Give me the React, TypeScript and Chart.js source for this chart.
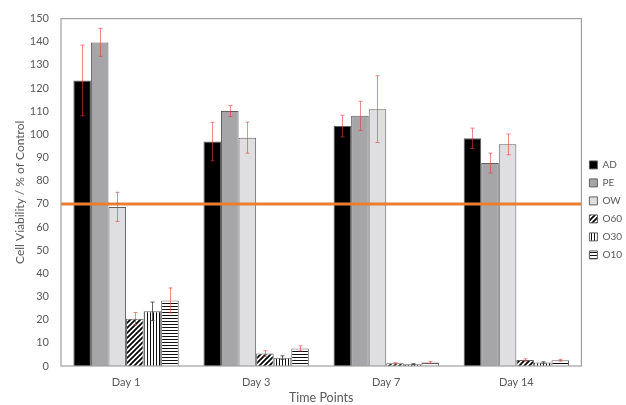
import React, { useEffect, useRef } from 'react';
import { Chart, registerables } from 'chart.js';

Chart.register(...registerables);

const categories = ['Day 1', 'Day 3', 'Day 7', 'Day 14'];
const seriesNames = ['AD', 'PE', 'OW', 'O60', 'O30', 'O10'];

const adValues = [123.3, 96.9, 103.6, 98.3];
const adErrors = [15.3, 8.3, 4.7, 4.4];
const peValues = [139.7, 110.1, 108.0, 87.6];
const peErrors = [6.0, 2.4, 6.3, 4.3];
const owValues = [68.7, 98.6, 110.9, 95.7];
const owErrors = [6.3, 6.7, 14.4, 4.5];
const o60Values = [20.4, 5.4, 1.2, 2.6];
const o60Errors = [2.7, 1.2, 0.3, 0.5];
const o30Values = [23.6, 3.6, 0.8, 1.5];
const o30Errors = [4.0, 0.8, 0.2, 0.3];
const o10Values = [28.3, 7.6, 1.5, 2.5];
const o10Errors = [5.4, 1.1, 0.5, 0.4];

const thresholdValue = 70;
const yTicks = { min: 0, max: 150, step: 10 };

const FONT = 'Lato, "Open Sans", sans-serif';
const TEXT = '#595959';

function makePattern(kind: string): CanvasPattern | string {
  const c = document.createElement('canvas');
  const ctx = c.getContext('2d');
  if (!ctx) return '#888';
  if (kind === 'diag') {
    c.width = 5; c.height = 5;
    ctx.fillStyle = '#fff';
    ctx.fillRect(0, 0, 5, 5);
    ctx.strokeStyle = '#000';
    ctx.lineWidth = 1.7;
    ctx.beginPath();
    ctx.moveTo(-1, 6); ctx.lineTo(6, -1);
    ctx.moveTo(-1, 1); ctx.lineTo(1, -1);
    ctx.moveTo(4, 6); ctx.lineTo(6, 4);
    ctx.stroke();
  } else if (kind === 'vert') {
    c.width = 3; c.height = 2;
    ctx.fillStyle = '#fff';
    ctx.fillRect(0, 0, 3, 2);
    ctx.fillStyle = '#111';
    ctx.fillRect(0, 0, 1, 2);
  } else {
    c.width = 2; c.height = 3;
    ctx.fillStyle = '#fff';
    ctx.fillRect(0, 0, 2, 3);
    ctx.fillStyle = '#111';
    ctx.fillRect(0, 0, 2, 1);
  }
  return ctx.createPattern(c, 'repeat') || '#888';
}

const errorBarPlugin = {
  id: 'errorBars',
  afterDatasetsDraw(chart: any) {
    const { ctx, chartArea, scales } = chart;
    const y = scales.y;
    ctx.save();
    const ty = y.getPixelForValue(thresholdValue);
    ctx.strokeStyle = '#ED7D31';
    ctx.lineWidth = 3;
    ctx.beginPath();
    ctx.moveTo(chartArea.left, ty);
    ctx.lineTo(chartArea.right, ty);
    ctx.stroke();
    chart.data.datasets.forEach((ds: any, i: number) => {
      const meta = chart.getDatasetMeta(i);
      ctx.strokeStyle = ds.errorColor;
      ctx.lineWidth = 1;
      meta.data.forEach((bar: any, j: number) => {
        const v = ds.data[j];
        const e = ds.errors[j];
        const yt = y.getPixelForValue(v + e);
        const yb = y.getPixelForValue(Math.max(0, v - e));
        const x = Math.round(bar.x) + 0.5;
        ctx.beginPath();
        ctx.moveTo(x, yt); ctx.lineTo(x, yb);
        ctx.moveTo(x - 2, yt); ctx.lineTo(x + 2, yt);
        ctx.moveTo(x - 2, yb); ctx.lineTo(x + 2, yb);
        ctx.stroke();
      });
    });
    ctx.strokeStyle = '#a0a0a0';
    ctx.lineWidth = 1.2;
    ctx.strokeRect(chartArea.left, chartArea.top, chartArea.right - chartArea.left, chartArea.bottom - chartArea.top);
    ctx.restore();
  },
};

export default function App() {
  const ref = useRef<HTMLCanvasElement | null>(null);
  useEffect(() => {
    if (!ref.current) return;
    const values = [adValues, peValues, owValues, o60Values, o30Values, o10Values];
    const errors = [adErrors, peErrors, owErrors, o60Errors, o30Errors, o10Errors];
    const fills: any[] = ['#000000', '#a6a6a9', '#dfdfe1', makePattern('diag'), makePattern('vert'), makePattern('horiz')];
    const red = 'rgba(225,60,60,0.6)';
    const errorColors = [red, red, red, red, 'rgba(60,60,60,0.8)', red];
    const chart = new Chart(ref.current, {
      type: 'bar',
      data: {
        labels: categories,
        datasets: seriesNames.map((name, i) => ({
          label: name,
          data: values[i],
          errors: errors[i],
          errorColor: errorColors[i],
          backgroundColor: fills[i],
          borderColor: '#606060',
          borderWidth: 1,
          categoryPercentage: 0.81,
          barPercentage: 1,
        })) as any,
      },
      options: {
        animation: false,
        responsive: false,
        devicePixelRatio: 1,
        layout: { padding: { top: 10, right: -6, bottom: 0, left: 0 } },
        plugins: {
          tooltip: { enabled: false },
          legend: {
            position: 'right',
            title: { display: true, text: ' ', font: { size: 4 }, padding: 0 },
            labels: {
              boxWidth: 8,
              boxHeight: 8,
              padding: 8,
              color: TEXT,
              font: { family: FONT, size: 10 },
            },
          },
        },
        scales: {
          x: {
            grid: { display: false, drawTicks: false },
            border: { display: false },
            ticks: { color: TEXT, font: { family: FONT, size: 11 }, padding: 10 },
            title: { display: true, text: 'Time Points', color: TEXT, font: { family: FONT, size: 12.5 }, padding: { top: 0, bottom: 0 } },
            afterFit: (scale: any) => { scale.height = 39; },
          },
          y: {
            min: yTicks.min,
            max: yTicks.max,
            grid: { display: false, drawTicks: false },
            border: { display: false },
            ticks: { stepSize: yTicks.step, color: TEXT, font: { family: FONT, size: 11 }, padding: 12 },
            title: { display: true, text: 'Cell Viability / % of Control', color: TEXT, font: { family: FONT, size: 12 }, padding: { top: 13, bottom: 0 } },
            afterFit: (scale: any) => { scale.width = 61; },
          },
        },
      },
      plugins: [errorBarPlugin],
    });
    return () => chart.destroy();
  }, []);
  return (
    <div style={{ position: 'fixed', left: 0, top: 0, width: 626, height: 405, background: '#fff' }}>
      <canvas ref={ref} width={626} height={405} style={{ width: 626, height: 405 }} />
    </div>
  );
}
